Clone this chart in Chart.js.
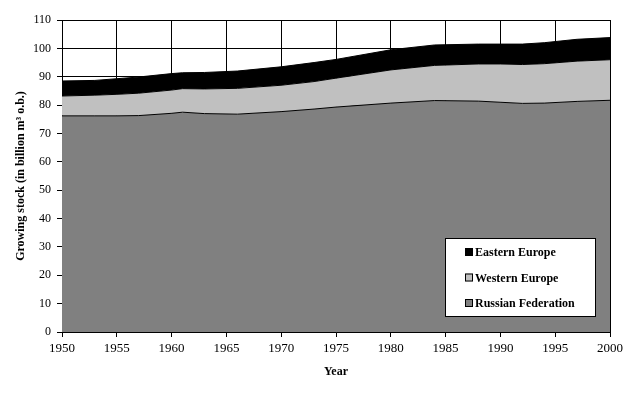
<!DOCTYPE html>
<html>
<head>
<meta charset="utf-8">
<script src="https://cdn.jsdelivr.net/npm/chart.js@4/dist/chart.umd.min.js"></script>
<style>
  html, body { margin: 0; padding: 0; background: #fff; }
  #wrap { width: 642px; height: 394px; }
</style>
</head>
<body>
<div id="wrap"><canvas id="stockChart" width="642" height="394"></canvas></div>
<script>
const years = [1950, 1953, 1955, 1957, 1960, 1961, 1963, 1966, 1970, 1973, 1975, 1980, 1984, 1988, 1990, 1992, 1994, 1997, 2000];
const russianFederation = [76.2, 76.2, 76.2, 76.3, 77.1, 77.5, 77.0, 76.8, 77.7, 78.6, 79.3, 80.7, 81.6, 81.4, 81.0, 80.6, 80.7, 81.3, 81.7];
const westernEurope = [7.0, 7.3, 7.6, 7.9, 8.2, 8.3, 8.7, 9.1, 9.3, 9.7, 10.2, 11.7, 12.4, 13.1, 13.5, 13.7, 13.9, 14.2, 14.3];
const easternEurope = [5.3, 5.2, 5.5, 5.7, 5.8, 5.6, 5.8, 6.1, 6.5, 6.7, 6.6, 7.1, 7.2, 7.0, 7.0, 7.2, 7.4, 7.7, 7.8];
const seriesLabels = ["Russian Federation", "Western Europe", "Eastern Europe"];
const seriesColors = ["#808080", "#c0c0c0", "#000000"];

const serif = "'Liberation Serif', 'Times New Roman', serif";

function toPoints(values) {
  return values.map((v, i) => ({ x: years[i], y: v }));
}

// legend box sitting inside the plot, like the Excel original
const boxLegend = {
  id: "boxLegend",
  afterDraw(chart) {
    const ctx = chart.ctx;
    ctx.save();
    ctx.fillStyle = "#fff";
    ctx.fillRect(445, 238, 151, 79);
    ctx.strokeStyle = "#000";
    ctx.lineWidth = 1;
    ctx.strokeRect(445.5, 238.5, 150, 78);

    ctx.font = "bold 12px " + serif;
    ctx.textBaseline = "middle";
    const rows = [2, 1, 0];
    rows.forEach((idx, r) => {
      const y = 252 + r * 25.5;
      ctx.fillStyle = seriesColors[idx];
      ctx.fillRect(465, y - 4, 8, 8);
      ctx.strokeStyle = "#000";
      ctx.strokeRect(465.5, y - 3.5, 7, 7);
      ctx.fillStyle = "#000";
      ctx.fillText(chart.data.datasets[idx].label, 475, y + 1);
    });
    ctx.restore();
  }
};

new Chart(document.getElementById("stockChart"), {
  type: "line",
  data: {
    datasets: [
      {
        label: seriesLabels[0],
        data: toPoints(russianFederation),
        backgroundColor: seriesColors[0],
        borderColor: "#000",
        borderWidth: 1,
        fill: "origin"
      },
      {
        label: seriesLabels[1],
        data: toPoints(westernEurope),
        backgroundColor: seriesColors[1],
        borderColor: "#000",
        borderWidth: 1,
        fill: "-1"
      },
      {
        label: seriesLabels[2],
        data: toPoints(easternEurope),
        backgroundColor: seriesColors[2],
        borderColor: "#000",
        borderWidth: 1,
        fill: "-1"
      }
    ]
  },
  options: {
    responsive: false,
    animation: false,
    layout: { padding: { left: 0, top: 20, right: 32, bottom: 0 } },
    elements: { point: { radius: 0 }, line: { tension: 0 } },
    plugins: {
      legend: { display: false },
      tooltip: { enabled: false }
    },
    scales: {
      x: {
        type: "linear",
        min: 1950,
        max: 2000,
        afterFit: (scale) => { scale.height = 62; },
        ticks: {
          stepSize: 5,
          color: "#000",
          padding: 4,
          maxRotation: 0,
          font: { family: serif, size: 13 },
          callback: (v) => String(v)
        },
        grid: { color: "#000", lineWidth: 1, tickLength: 5 },
        border: { color: "#000" },
        title: {
          display: true,
          text: "Year",
          color: "#000",
          font: { family: serif, size: 12, weight: "bold" },
          padding: { top: 0, bottom: 15 }
        }
      },
      y: {
        stacked: true,
        min: 0,
        max: 110,
        afterFit: (scale) => { scale.width = 62; },
        ticks: {
          stepSize: 10,
          color: "#000",
          padding: 6,
          font: { family: serif, size: 12 }
        },
        grid: { color: "#000", lineWidth: 1, tickLength: 5 },
        border: { color: "#000" },
        title: {
          display: true,
          text: "Growing stock (in billion m³ o.b.)",
          color: "#000",
          font: { family: serif, size: 12, weight: "bold" },
          padding: { top: 14, bottom: 0 }
        }
      }
    }
  },
  plugins: [boxLegend]
});
</script>
</body>
</html>
